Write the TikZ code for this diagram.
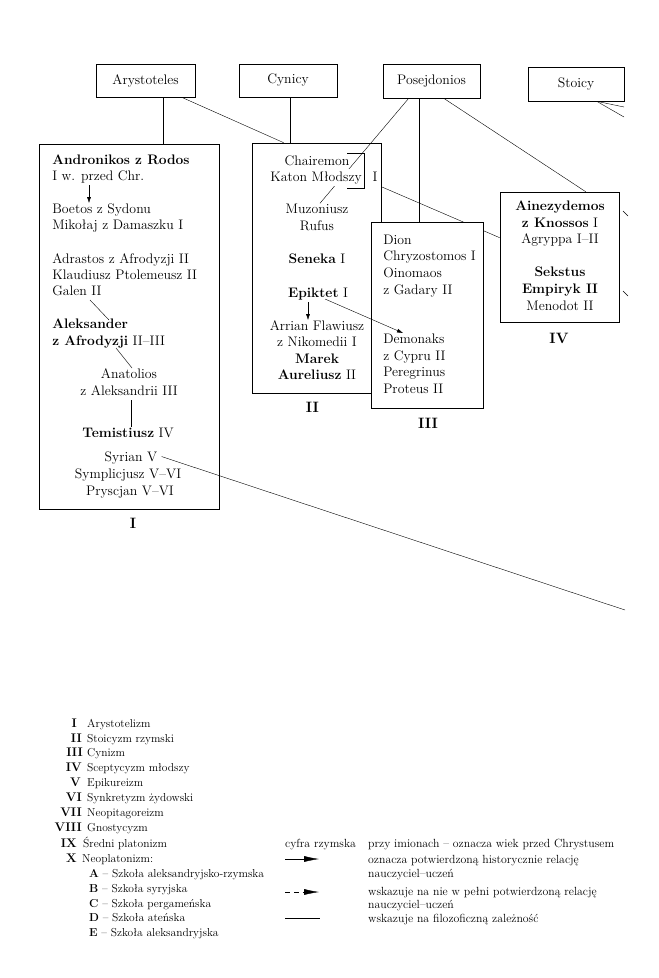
\documentclass[tikz,border=0pt]{standalone}
\usepackage{fontspec}
\usetikzlibrary{calc,arrows.meta}
\pgfdeclarelayer{bg}
\pgfsetlayers{bg,main}
\begin{document}
\begin{tikzpicture}[x=1pt,y=-1pt, line width=0.6pt,
  txt/.style={inner sep=0pt, font=\fontsize{13.8}{16.5}\selectfont},
  tl/.style={txt, anchor=base west},
  tc/.style={txt, anchor=base},
  box/.style={draw, inner sep=0pt},
  lg/.style={inner sep=0pt, anchor=base west, font=\fontsize{11.5}{14}\selectfont},
  lgn/.style={inner sep=0pt, anchor=base east, font=\fontsize{12.5}{14}\selectfont\bfseries},
  lgr/.style={inner sep=0pt, anchor=base west, font=\fontsize{11.8}{14}\selectfont},
  arr/.style={-{Latex[length=6pt,width=4pt]}},
  bigarr/.style={-{Latex[length=15pt,width=6pt]}},
  lbl/.style={inner sep=0pt, anchor=base, font=\fontsize{15}{16}\selectfont\bfseries}]
\useasboundingbox (0,0) rectangle (659,978);

% top boxes
\node[box, txt, minimum width=99pt, minimum height=33pt] (ary) at (145.5,80.5) {Arystoteles};
\node[box, txt, minimum width=98pt, minimum height=33pt] (cyn) at (288,80.5) {Cynicy};
\node[box, txt, minimum width=97pt, minimum height=34pt] (pos) at (431.5,81) {Posejdonios};
\node[box, txt, minimum width=96pt, minimum height=34pt] (sto) at (576,84) {Stoicy};

% school boxes
\node[box, minimum width=180pt, minimum height=365pt] (boxI) at (129,326.5) {};
\node[box, minimum width=129pt, minimum height=250pt] (boxII) at (316.5,268) {};
\node[box, fill=white, minimum width=112pt, minimum height=186pt] (boxIII) at (427,315) {};
\node[box, minimum width=119pt, minimum height=130pt] (boxIV) at (559.5,257) {};

% box I text
\node[tl] (andr1) at (52,164) {\textbf{Andronikos z Rodos}};
\node[tl] (andr2) at (52,180) {I w. przed Chr.};
\node[tl] (boet1) at (52,213) {Boetos z Sydonu};
\node[tl] (boet2) at (52,229) {Mikołaj z Damaszku I};
\node[tl] (adr1) at (52,263) {Adrastos z Afrodyzji II};
\node[tl] (adr2) at (52,279) {Klaudiusz Ptolemeusz II};
\node[tl] (gal) at (52,295) {Galen II};
\node[tl] (alek1) at (52,328) {\textbf{Aleksander}};
\node[tl] (alek2) at (52,345) {\textbf{z Afrodyzji} II–III};
\node[tc] (anat1) at (129,378) {Anatolios};
\node[tc] (anat2) at (129,395) {z Aleksandrii III};
\node[tc] (tem) at (128,437) {\textbf{Temistiusz} IV};
\node[tc] (syr) at (131,461) {Syrian V};
\node[tc] (sym) at (128,478) {Symplicjusz V–VI};
\node[tc] (prys) at (130,495) {Pryscjan V–VI};

% box II text
\node[tc] (chai) at (317,165) {Chairemon};
\node[tc, fill=white, inner xsep=0.5pt, inner ysep=2pt] (katon) at (316,181) {Katon Młodszy};
\node[tc] (katI) at (375,181) {I};
\node[tc] (muz) at (317,213) {Muzoniusz};
\node[tc] (ruf) at (317,230) {Rufus};
\node[tc] (sen) at (317,263) {\textbf{Seneka} I};
\node[tc] (epi) at (318,297) {\textbf{Epiktet} I};
\node[tc] (arr1) at (317,330) {Arrian Flawiusz};
\node[tc] (arr2) at (317,346) {z Nikomedii I};
\node[tc] (mar) at (317,363) {\textbf{Marek}};
\node[tc] (aur) at (317,379) {\textbf{Aureliusz} II};

% box III text
\node[tl] (dion) at (383,244) {Dion};
\node[tl] (chry) at (383,260.5) {Chryzostomos I};
\node[tl] (oino) at (383,277) {Oinomaos};
\node[tl] (gad) at (383,294) {z Gadary II};
\node[tl] (dem) at (383,343) {Demonaks};
\node[tl] (cyp) at (383,360) {z Cypru II};
\node[tl] (per) at (383,376) {Peregrinus};
\node[tl] (prot) at (383,393) {Proteus II};

% box IV text
\node[tc] (ain) at (560,210) {\textbf{Ainezydemos}};
\node[tc] (kno) at (560,227) {\textbf{z Knossos} I};
\node[tc] (agr) at (560,243) {Agryppa I–II};
\node[tc] (sek) at (560,276) {\textbf{Sekstus}};
\node[tc] (emp) at (560,293) {\textbf{Empiryk II}};
\node[tc] (men) at (560,310) {Menodot II};

% labels
\node[lbl] (lI) at (133,528) {I};
\node[lbl] (lII) at (312.5,412) {II};
\node[lbl] (lIII) at (428,428) {III};
\node[lbl] (lIV) at (559,343) {IV};

% background lines
\begin{pgfonlayer}{bg}
\draw ($(boxII.north east)+(0,44)$) -- ($(boxIV.north west)+(0,46)$);
\draw ($(pos.south west)+(26,0)$) -- ($(muz.north)+(3,0)$);
\end{pgfonlayer}

% bracket
\draw (347,153) -- (364,153) -- (364,188) -- (347,188);

% connectors
\draw ($(ary.south west)+(67,0)$) -- ($(boxI.north west)+(124,0)$);
\draw ($(ary.south west)+(86,0)$) -- ($(boxII.north west)+(32,0)$);
\draw ($(cyn.south west)+(51,0)$) -- ($(boxII.north west)+(38,0)$);
\draw ($(pos.south west)+(36,0)$) -- ($(boxIII.north west)+(48,0)$);
\draw ($(pos.south west)+(61,0)$) -- ($(boxIV.north west)+(86,0)$);
\coordinate (stoA) at (624,107);
\coordinate (stoB) at (624,117);
\draw ($(sto.south west)+(69,0)$) -- (stoA);
\draw ($(sto.south west)+(69,0)$) -- (stoB);
\coordinate (ivA1) at (623,211);
\coordinate (ivA2) at (628,216);
\coordinate (ivB1) at (623,291);
\coordinate (ivB2) at (628,296);
\draw (ivA1) -- (ivA2);
\draw (ivB1) -- (ivB2);

\draw[arr] ($(andr2.base west)+(37,5)$) -- ($(boet1.base west)+(37,-10)$);
\draw ($(gal.base west)+(38,5)$) -- ($(alek1.base west)+(57,-8)$);
\draw ($(alek2.base west)+(64,3)$) -- ($(anat1.base)+(3,-10)$);
\draw ($(anat2.base)+(2,5)$) -- ($(tem.base)+(3,-10)$);
\coordinate (syrend) at (625,610);
\draw ($(syr.east)+(4,-1)$) -- (syrend);

\draw[arr] ($(epi.base)+(-10,5)$) -- ($(arr1.base)+(-9,-10)$);
\draw[arr] ($(epi.base)+(7,2)$) -- ($(dem.base west)+(20,-10)$);

% legend left
\node[lgn] (n1) at (77,727) {I};   \node[lg] (t1) at (87,727) {Arystotelizm};
\node[lgn] (n2) at (82,742) {II};  \node[lg] (t2) at (87,742) {Stoicyzm rzymski};
\node[lgn] (n3) at (83,756.5) {III}; \node[lg] (t3) at (87,756.5) {Cynizm};
\node[lgn] (n4) at (82,771.5) {IV}; \node[lg] (t4) at (87,771.5) {Sceptycyzm młodszy};
\node[lgn] (n5) at (81,786) {V};   \node[lg] (t5) at (87,786) {Epikureizm};
\node[lgn] (n6) at (82,801) {VI};  \node[lg] (t6) at (87,801) {Synkretyzm żydowski};
\node[lgn] (n7) at (82,816) {VII}; \node[lg] (t7) at (87,816) {Neopitagoreizm};
\node[lgn] (n8) at (82,831) {VIII}; \node[lg] (t8) at (87,831) {Gnostycyzm};
\node[lgn] (n9) at (77,847) {IX};  \node[lg] (t9) at (83,847) {Średni platonizm};
\node[lgn] (n10) at (77,862) {X};  \node[lg] (t10) at (82,862) {Neoplatonizm:};
\node[lg] (sa) at (89,877) {\textbf{A} – Szkoła aleksandryjsko-rzymska};
\node[lg] (sb) at (89,892) {\textbf{B} – Szkoła syryjska};
\node[lg] (sc) at (89,907) {\textbf{C} – Szkoła pergameńska};
\node[lg] (sd) at (89,921) {\textbf{D} – Szkoła ateńska};
\node[lg] (se) at (89,936) {\textbf{E} – Szkoła aleksandryjska};

% legend right
\node[lgr] (cyf) at (285,847) {cyfra rzymska};
\node[lgr] (r1) at (368,847) {przy imionach – oznacza wiek przed Chrystusem};
\coordinate (a1s) at (285,859); \coordinate (a1e) at (319,859);
\draw[bigarr] (a1s) -- (a1e);
\node[lgr] (r2) at (368,863) {oznacza potwierdzoną historycznie relację};
\node[lgr] (r3) at (368,877) {nauczyciel–uczeń};
\coordinate (a2s) at (285,892); \coordinate (a2e) at (319,892);
\draw[bigarr, dash pattern=on 5pt off 4pt] (a2s) -- (a2e);
\node[lgr] (r4) at (368,895) {wskazuje na nie w pełni potwierdzoną relację};
\node[lgr] (r5) at (368,908) {nauczyciel–uczeń};
\coordinate (a3s) at (285,918); \coordinate (a3e) at (320,918);
\draw (a3s) -- (a3e);
\node[lgr] (r6) at (368,922) {wskazuje na filozoficzną zależność};
\end{tikzpicture}
\end{document}
